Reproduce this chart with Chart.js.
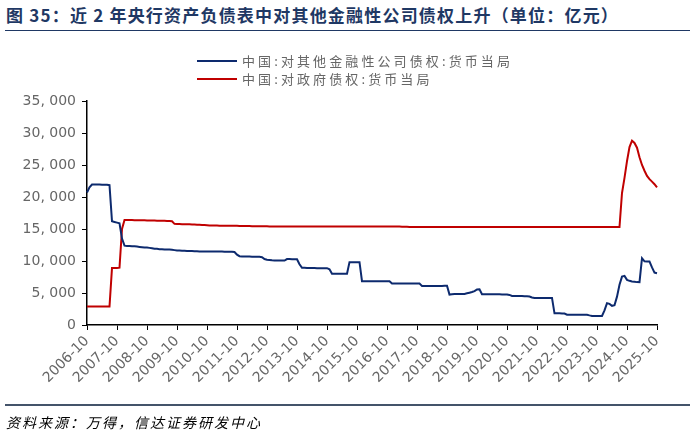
<!DOCTYPE html>
<html>
<head>
<meta charset="utf-8">
<script src="https://cdn.jsdelivr.net/npm/chart.js@4.4.1/dist/chart.umd.min.js"></script>
<style>
  body { margin: 0; background: #fff; }
  #wrap { position: relative; width: 695px; height: 437px; font-family: "Noto Sans CJK SC", sans-serif; }
  #title { position: absolute; left: 6px; top: 2px; font-size: 17px; letter-spacing: 1.2px; font-weight: bold; color: #1f3864; white-space: nowrap; }
  #topline { position: absolute; left: 5px; top: 30px; width: 685px; height: 0; border-top: 1.5px solid #1f3864; }
  #legend { position: absolute; left: 197px; top: 52px; font-size: 13px; letter-spacing: 3.1px; color: #666; line-height: 18px; }
  #legend .row { display: flex; align-items: center; white-space: nowrap; }
  #legend .swatch { width: 40px; height: 0; border-top: 2px solid; margin-right: 5px; }
  #botline { position: absolute; left: 5px; top: 404px; width: 685px; height: 0; border-top: 2px solid #44546a; }
  #source { position: absolute; left: 6px; top: 412px; font-size: 14px; letter-spacing: 2px; font-style: italic; color: #000; white-space: nowrap; }
  canvas { position: absolute; left: 0; top: 0; }
</style>
</head>
<body>
<div id="wrap">
  <div id="title">图 35：近 2 年央行资产负债表中对其他金融性公司债权上升（单位：亿元）</div>
  <div id="topline"></div>
  <canvas id="myChart" width="695" height="437"></canvas>
  <div id="legend"></div>
  <div id="botline"></div>
  <div id="source">资料来源：万得，信达证券研发中心</div>
</div>
<script>
// monthly data, 2006-10 .. 2025-10 (亿元)
var seriesNames = ['中国:对其他金融性公司债权:货币当局', '中国:对政府债权:货币当局'];
var seriesColors = ['#0d2a6e', '#c00000'];
var yTicks = [0, 5000, 10000, 15000, 20000, 25000, 30000, 35000];
var yearTicks = ['2006-10','2007-10','2008-10','2009-10','2010-10','2011-10','2012-10','2013-10','2014-10','2015-10',
                 '2016-10','2017-10','2018-10','2019-10','2020-10','2021-10','2022-10','2023-10','2024-10','2025-10'];

var otherFin = [
  20700,21500,21950,21950,21950,21950,21900,21900,21900,21850,16200,16100,
  16000,15900,13500,12400,12350,12350,12300,12300,12250,12200,12150,12100,
  12100,12050,12000,11900,11900,11850,11850,11800,11800,11780,11750,11700,
  11650,11650,11600,11600,11580,11560,11550,11540,11520,11500,11500,11480,
  11480,11480,11480,11480,11480,11470,11470,11460,11460,11450,11450,11400,
  11000,10750,10700,10700,10700,10700,10680,10680,10650,10650,10600,10300,
  10200,10150,10100,10080,10080,10070,10070,10070,10300,10300,10290,10290,
  10280,9500,8930,8930,8900,8900,8900,8900,8880,8880,8880,8880,
  8880,8700,8000,7990,7990,7990,7990,7990,8000,9820,9820,9820,
  9820,9820,6840,6840,6840,6840,6840,6840,6840,6840,6840,6840,
  6840,6840,6470,6470,6470,6470,6470,6470,6470,6470,6470,6470,
  6470,6470,6110,6110,6110,6110,6110,6110,6110,6110,6110,6150,
  6150,4750,4800,4850,4850,4850,4850,4850,4950,5050,5150,5300,
  5550,5590,4800,4800,4800,4800,4800,4800,4800,4800,4780,4780,
  4780,4700,4540,4540,4540,4540,4540,4500,4480,4450,4300,4230,
  4230,4230,4230,4230,4230,4230,4230,1830,1830,1830,1800,1800,
  1610,1610,1610,1610,1620,1620,1620,1620,1600,1500,1410,1410,
  1410,1410,1410,2300,3400,3300,3000,3100,4430,6300,7560,7670,
  7050,6900,6800,6750,6700,6690,10440,9950,9910,9910,9000,8190,
  8100
];

var govt = [
  2900,2900,2900,2900,2900,2900,2900,2900,2900,2900,8900,8900,
  8900,8950,15000,16400,16400,16400,16390,16380,16370,16360,16350,16350,
  16340,16330,16320,16310,16300,16290,16280,16270,16260,16250,16200,15800,
  15780,15770,15760,15750,15740,15730,15720,15700,15680,15660,15640,15620,
  15600,15560,15550,15540,15530,15520,15510,15500,15500,15500,15500,15500,
  15490,15480,15470,15460,15450,15450,15440,15440,15430,15430,15420,15420,
  15420,15410,15410,15400,15400,15400,15400,15400,15400,15400,15400,15400,
  15400,15400,15400,15400,15400,15400,15400,15400,15400,15400,15400,15400,
  15400,15400,15400,15400,15400,15400,15400,15400,15400,15400,15400,15400,
  15400,15400,15400,15400,15400,15400,15400,15400,15400,15400,15400,15400,
  15400,15400,15400,15400,15400,15380,15360,15350,15340,15330,15320,15310,
  15300,15300,15300,15300,15300,15300,15300,15300,15300,15300,15300,15300,
  15300,15300,15300,15300,15300,15300,15300,15300,15300,15300,15300,15300,
  15300,15300,15300,15300,15300,15300,15300,15300,15300,15300,15300,15300,
  15300,15300,15300,15300,15300,15300,15300,15300,15300,15300,15300,15300,
  15300,15300,15300,15300,15300,15300,15300,15300,15300,15300,15300,15300,
  15300,15300,15300,15300,15300,15300,15300,15300,15300,15300,15300,15300,
  15300,15300,15300,15300,15300,15300,15300,15300,15300,15300,20620,23000,
  25600,27800,28800,28450,27700,26200,25000,24100,23300,22800,22400,22000,
  21500
];

// month labels
var labels = [];
for (var i = 0; i < otherFin.length; i++) {
  var mm = 10 + i;
  var yr = 2006 + Math.floor((mm - 1) / 12);
  var mo = ((mm - 1) % 12) + 1;
  labels.push(yr + '-' + (mo < 10 ? '0' + mo : mo));
}

// html legend
var legendEl = document.getElementById('legend');
seriesNames.forEach(function (name, k) {
  var row = document.createElement('div');
  row.className = 'row';
  row.innerHTML = '<span class="swatch" style="border-color:' + seriesColors[k] + '"></span><span>' + name + '</span>';
  legendEl.appendChild(row);
});

const ctx = document.getElementById('myChart').getContext('2d');
const myChart = new Chart(ctx, {
  type: 'line',
  data: {
    labels: labels,
    datasets: [{
      label: seriesNames[0],
      data: otherFin,
      borderColor: seriesColors[0],
      borderWidth: 2,
      pointRadius: 0,
      tension: 0
    }, {
      label: seriesNames[1],
      data: govt,
      borderColor: seriesColors[1],
      borderWidth: 2,
      pointRadius: 0,
      tension: 0
    }]
  },
  options: {
    responsive: false,
    animation: false,
    layout: { padding: { top: 101, right: 38, bottom: 0, left: 0 } },
    plugins: { legend: { display: false }, tooltip: { enabled: false } },
    scales: {
      x: {
        afterFit: function (s) { s.height = 112; },
        grid: { drawOnChartArea: false, drawTicks: true, tickLength: 5, color: '#000' },
        border: { display: true, color: '#000', width: 1.5 },
        ticks: {
          autoSkip: false,
          maxRotation: 45,
          minRotation: 45,
          padding: 3,
          color: '#666',
          font: { size: 14, family: 'DejaVu Sans' },
          callback: function (v, idx) {
            var lab = labels[idx];
            return yearTicks.indexOf(lab) >= 0 ? lab : null;
          }
        }
      },
      y: {
        min: 0,
        max: 35000,
        afterFit: function (s) { s.width = 87; },
        afterBuildTicks: function (s) { s.ticks = yTicks.map(function (v) { return { value: v }; }); },
        grid: { drawOnChartArea: false, drawTicks: true, tickLength: 5, color: '#000' },
        border: { display: true, color: '#000', width: 1.5 },
        ticks: {
          padding: 6,
          color: '#666',
          font: { size: 14, family: 'DejaVu Sans' },
          callback: function (v) { return v.toLocaleString('en-US').replace(',', ', '); }
        }
      }
    }
  }
});
</script>
</body>
</html>
